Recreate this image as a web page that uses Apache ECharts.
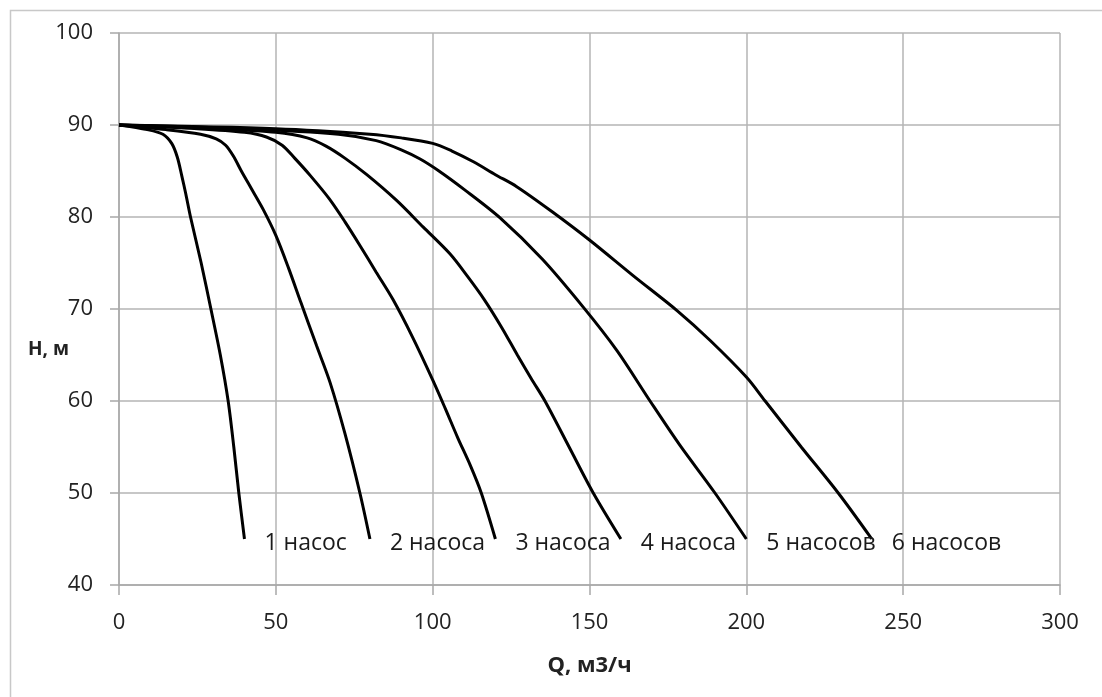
<!DOCTYPE html>
<html>
<head>
<meta charset="utf-8">
<script src="https://cdn.jsdelivr.net/npm/echarts@6/dist/echarts.min.js"></script>
<style>
html,body{margin:0;padding:0;background:#fff;}
#c{width:1102px;height:697px;}
</style>
</head>
<body>
<div id="c"></div>
<script>
// Series names (end labels)
const seriesNames = ['1 насос', '2 насоса', '3 насоса', '4 насоса', '5 насосов', '6 насосов'];

// Q (m3/h) and H (m) for each curve
const q1 = [0, 9, 14, 16.8, 18.6, 20, 21.3, 22.8, 26.2, 29.3, 32.3, 34.8, 36.6, 38.2, 40];
const h1 = [90, 89.5, 89, 88, 86.5, 84.5, 82.5, 80, 75, 70, 65, 60, 55, 50, 45];

const q2 = [0, 15, 26, 31, 34, 36.5, 39, 42, 46, 50, 54, 58, 63, 67.3, 72, 76.8, 80];
const h2 = [90, 89.5, 89, 88.5, 87.8, 86.6, 85, 83.2, 80.8, 78, 74.5, 70.7, 66, 62, 56.5, 50, 45];

const q3 = [0, 25, 40, 47, 52, 56, 61, 67, 72, 77, 82, 87.4, 93.5, 100, 104, 108, 112, 115.5, 120];
const h3 = [90, 89.6, 89.2, 88.7, 87.8, 86.4, 84.5, 82, 79.5, 76.8, 74, 71, 67, 62.3, 59.2, 56, 53, 50, 45];

const q4 = [0, 30, 50, 60, 66, 72, 79, 88.5, 97, 105.5, 111, 116.5, 122, 127, 131.5, 135.8, 143.5, 151.2, 160];
const h4 = [90, 89.6, 89.2, 88.6, 87.7, 86.4, 84.6, 81.8, 78.9, 76, 73.6, 71, 68, 65, 62.4, 60, 55, 50, 45];

const q5 = [0, 40, 70, 82, 90, 96, 102, 110, 121.5, 135, 148, 158.7, 169.3, 178.8, 190, 200];
const h5 = [90, 89.6, 89, 88.3, 87.3, 86.3, 85, 83, 79.9, 75.4, 70.2, 65.5, 60, 55.2, 50, 45];

const q6 = [0, 50, 80, 90, 100, 106, 113, 120, 126.8, 138, 150, 164, 178, 188.4, 200, 206, 217.5, 229.3, 240];
const h6 = [90, 89.6, 89, 88.6, 88, 87.2, 86, 84.6, 83.3, 80.6, 77.5, 73.6, 69.8, 66.6, 62.6, 60, 55, 50, 45];

// Axis ticks
const xTicks = [0, 50, 100, 150, 200, 250, 300];
const yTicks = [40, 50, 60, 70, 80, 90, 100];

const qs = [q1, q2, q3, q4, q5, q6];
const hs = [h1, h2, h3, h4, h5, h6];

const FONT = "'Open Sans', 'Noto Sans', sans-serif";

const series = seriesNames.map((name, i) => ({
  name: name,
  type: 'line',
  data: qs[i].map((v, j) => [v, hs[i][j]]),
  smooth: 0.3,
  showSymbol: false,
  symbol: 'none',
  lineStyle: { color: '#000', width: 3 },
  itemStyle: { color: '#000' },
  endLabel: {
    show: true, distance: 20, offset: [0, 4],
    formatter: name, color: '#1a1a1a', fontSize: 23, fontFamily: FONT
  },
  labelLayout: { hideOverlap: false },
  z: 5
}));

const chart = echarts.init(document.getElementById('c'), null, { renderer: 'canvas' });
chart.setOption({
  animation: false,
  backgroundColor: '#fff',
  grid: { left: 119, right: 42, top: 33, bottom: 112, containLabel: false },
  xAxis: {
    type: 'value', min: xTicks[0], max: xTicks[xTicks.length - 1], interval: 50,
    name: 'Q, м3/ч', nameLocation: 'middle', nameGap: 70,
    nameTextStyle: { fontSize: 22, fontWeight: 'bold', color: '#222', fontFamily: FONT },
    axisLine: { show: true, lineStyle: { color: '#a8a8a8', width: 1.5 } },
    axisTick: { show: true, length: 10, lineStyle: { color: '#a8a8a8', width: 1.5 } },
    axisLabel: { fontSize: 22, color: '#222', margin: 27, fontFamily: FONT },
    splitLine: { show: true, lineStyle: { color: '#b4b4b4', width: 1.5 } }
  },
  yAxis: {
    type: 'value', min: yTicks[0], max: yTicks[yTicks.length - 1], interval: 10,
    axisLine: { show: true, lineStyle: { color: '#a8a8a8', width: 1.5 } },
    axisTick: { show: true, length: 9, lineStyle: { color: '#a8a8a8', width: 1.5 } },
    axisLabel: { fontSize: 22, color: '#222', margin: 26, fontFamily: FONT },
    splitLine: { show: true, lineStyle: { color: '#b4b4b4', width: 1.5 } }
  },
  graphic: [
    {
      type: 'rect', shape: { x: 10.5, y: 10.5, width: 1200, height: 800 },
      style: { fill: 'none', stroke: '#c8c8c8', lineWidth: 1.5 }, silent: true, z: 0
    },
    {
      type: 'text', left: 28, top: 340,
      style: { text: 'H, м', fontSize: 19, fontWeight: 'bold', fill: '#222', fontFamily: FONT }
    }
  ],
  series: series
});
</script>
</body>
</html>
